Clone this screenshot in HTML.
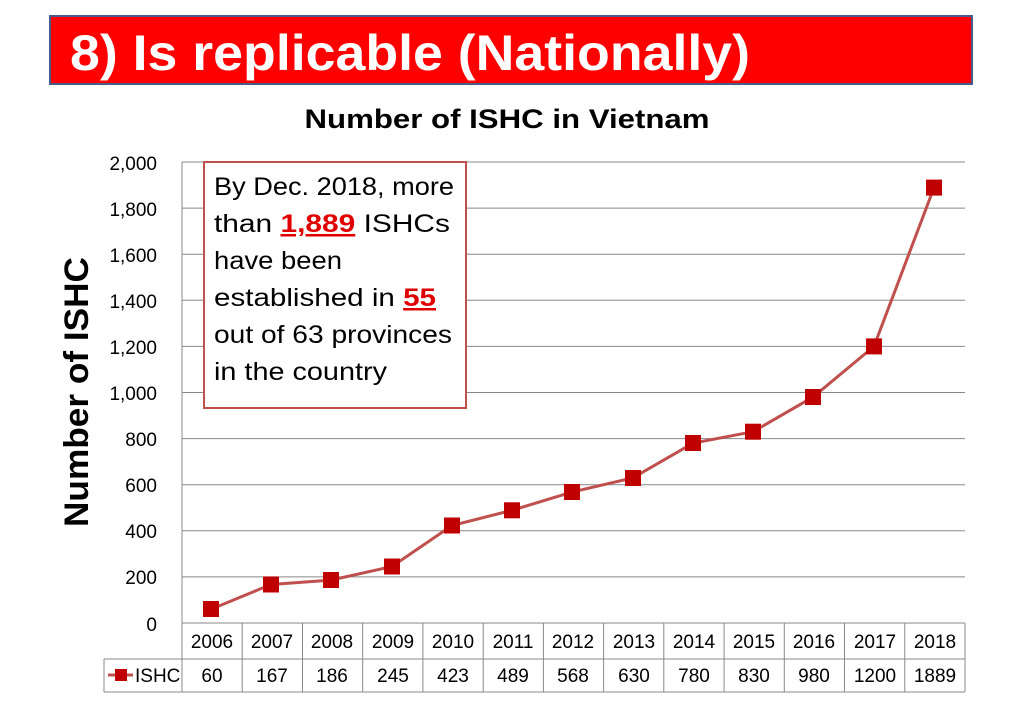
<!DOCTYPE html>
<html><head><meta charset="utf-8"><style>
html,body{margin:0;padding:0;background:#fff;}
svg{display:block;font-family:"Liberation Sans",sans-serif;}
</style></head><body>
<svg width="1024" height="724" xmlns="http://www.w3.org/2000/svg">
<rect x="50" y="16" width="922" height="68" fill="#ff0000" stroke="#4a5a8a" stroke-width="2"/>
<text x="70" y="70" fill="#fff" font-size="50" font-weight="bold" textLength="680" lengthAdjust="spacingAndGlyphs">8) Is replicable (Nationally)</text>
<text x="507" y="128" text-anchor="middle" font-size="27" font-weight="bold" textLength="405" lengthAdjust="spacingAndGlyphs">Number of ISHC in Vietnam</text>
<text transform="translate(88,392) rotate(-90)" text-anchor="middle" font-size="34" font-weight="bold" textLength="270" lengthAdjust="spacingAndGlyphs">Number of ISHC</text>
<g stroke="#888" stroke-width="1">
<line x1="182" y1="162" x2="965" y2="162"/><line x1="182" y1="208.1" x2="965" y2="208.1"/><line x1="182" y1="254.2" x2="965" y2="254.2"/><line x1="182" y1="300.3" x2="965" y2="300.3"/><line x1="182" y1="346.4" x2="965" y2="346.4"/><line x1="182" y1="392.5" x2="965" y2="392.5"/><line x1="182" y1="438.6" x2="965" y2="438.6"/><line x1="182" y1="484.7" x2="965" y2="484.7"/><line x1="182" y1="530.8" x2="965" y2="530.8"/><line x1="182" y1="576.9" x2="965" y2="576.9"/>
<line x1="182" y1="623" x2="965" y2="623"/>
<line x1="182" y1="162" x2="182" y2="692"/>
<line x1="104" y1="659" x2="965" y2="659"/><line x1="104" y1="692" x2="965" y2="692"/><line x1="104" y1="659" x2="104" y2="692"/>
<line x1="965" y1="623" x2="965" y2="692"/>
<line x1="242.2" y1="623" x2="242.2" y2="692"/><line x1="302.5" y1="623" x2="302.5" y2="692"/><line x1="362.7" y1="623" x2="362.7" y2="692"/><line x1="422.9" y1="623" x2="422.9" y2="692"/><line x1="483.2" y1="623" x2="483.2" y2="692"/><line x1="543.4" y1="623" x2="543.4" y2="692"/><line x1="603.6" y1="623" x2="603.6" y2="692"/><line x1="663.8" y1="623" x2="663.8" y2="692"/><line x1="724.1" y1="623" x2="724.1" y2="692"/><line x1="784.3" y1="623" x2="784.3" y2="692"/><line x1="844.5" y1="623" x2="844.5" y2="692"/><line x1="904.8" y1="623" x2="904.8" y2="692"/>
</g>
<g font-size="19" text-anchor="end">
<text x="157" y="170">2,000</text><text x="157" y="216">1,800</text><text x="157" y="262">1,600</text><text x="157" y="308">1,400</text><text x="157" y="354">1,200</text><text x="157" y="400">1,000</text><text x="157" y="446">800</text><text x="157" y="492">600</text><text x="157" y="538">400</text><text x="157" y="584">200</text><text x="157" y="631">0</text>
</g>
<g font-size="19" text-anchor="middle">
<text x="212" y="648">2006</text><text x="272" y="648">2007</text><text x="332" y="648">2008</text><text x="393" y="648">2009</text><text x="453" y="648">2010</text><text x="513" y="648">2011</text><text x="573" y="648">2012</text><text x="634" y="648">2013</text><text x="694" y="648">2014</text><text x="754" y="648">2015</text><text x="814" y="648">2016</text><text x="875" y="648">2017</text><text x="935" y="648">2018</text>
<text x="212" y="682">60</text><text x="272" y="682">167</text><text x="332" y="682">186</text><text x="393" y="682">245</text><text x="453" y="682">423</text><text x="513" y="682">489</text><text x="573" y="682">568</text><text x="634" y="682">630</text><text x="694" y="682">780</text><text x="754" y="682">830</text><text x="814" y="682">980</text><text x="875" y="682">1200</text><text x="935" y="682">1889</text>
</g>
<line x1="108" y1="675" x2="133" y2="675" stroke="#c0504d" stroke-width="3"/>
<rect x="115" y="669" width="12" height="12" fill="#c00000"/>
<text x="135" y="682" font-size="19">ISHC</text>
<polyline fill="none" stroke="#c0504d" stroke-width="3" points="211,609.2 271,584.5 331,580.1 392,566.5 452,525.5 512,510.3 572,492.1 633,477.8 693,443.2 753,431.7 813,397.1 874,346.4 934,187.6"/>
<g fill="#c00000">
<rect x="203" y="601" width="16" height="16"/><rect x="263" y="576.5" width="16" height="16"/><rect x="323" y="572" width="16" height="16"/><rect x="384" y="558.5" width="16" height="16"/><rect x="444" y="517.5" width="16" height="16"/><rect x="504" y="502.3" width="16" height="16"/><rect x="564" y="484" width="16" height="16"/><rect x="625" y="470" width="16" height="16"/><rect x="685" y="435" width="16" height="16"/><rect x="745" y="423.7" width="16" height="16"/><rect x="805" y="389" width="16" height="16"/><rect x="866" y="338.4" width="16" height="16"/><rect x="926" y="179.6" width="16" height="16"/>
</g>
<rect x="204" y="162" width="262" height="246" fill="#fff" stroke="#c0504d" stroke-width="2"/>
<g font-size="25">
<text x="214" y="195" textLength="240" lengthAdjust="spacingAndGlyphs">By Dec. 2018, more</text>
<text x="214" y="232" textLength="236" lengthAdjust="spacingAndGlyphs">than <tspan fill="#e00000" font-weight="bold" text-decoration="underline">1,889</tspan> ISHCs</text>
<text x="214" y="269" textLength="128" lengthAdjust="spacingAndGlyphs">have been</text>
<text x="214" y="306" textLength="222" lengthAdjust="spacingAndGlyphs">established in <tspan fill="#e00000" font-weight="bold" text-decoration="underline">55</tspan></text>
<text x="214" y="343" textLength="238" lengthAdjust="spacingAndGlyphs">out of 63 provinces</text>
<text x="214" y="380" textLength="173" lengthAdjust="spacingAndGlyphs">in the country</text>
</g>
</svg>
</body></html>
